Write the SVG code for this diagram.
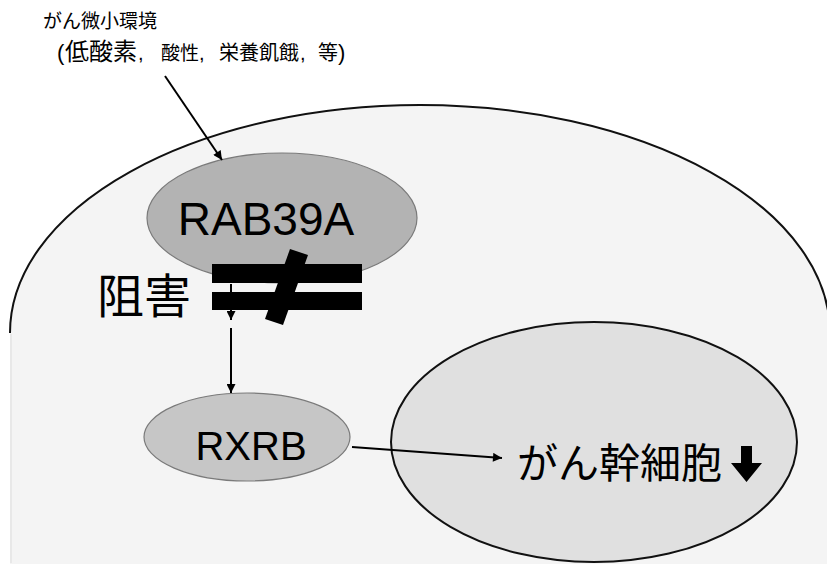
<svg xmlns="http://www.w3.org/2000/svg" width="827" height="564" viewBox="0 0 827 564">
<defs>
<style>
.t{font-family:"Liberation Sans","Noto Sans CJK JP",sans-serif;fill:#000}
.cjk{font-family:"Noto Sans CJK JP","Liberation Sans",sans-serif;fill:#000}
.conn{stroke:#000;stroke-width:2;fill:none}
</style>
<marker id="ah" viewBox="0 0 10 10" refX="10" refY="5" markerWidth="10" markerHeight="9" markerUnits="userSpaceOnUse" orient="auto">
<path d="M0,0 L10,5 L0,10 Z" fill="#000"/>
</marker>
</defs>
<rect width="827" height="564" fill="#ffffff"/>
<g id="cell">
<path d="M10,333 A410,228 0 0 1 830,333 L830,564 L10,564 Z" fill="#f4f4f4"/>
<path d="M10,333 A410,228 0 0 1 830,333" fill="none" stroke="#111" stroke-width="2"/>
<line x1="11" y1="334" x2="11" y2="563" stroke="#dcdcdc" stroke-width="1"/>
</g>
<g id="stemcell">
<ellipse cx="594" cy="442" rx="203" ry="120" fill="#e0e0e0" stroke="#111" stroke-width="2"/>
<text class="cjk" x="517" y="478" font-size="41">がん幹細胞</text>
<path d="M741,446 L752,446 L752,463 L762,463 L746.5,482 L731,463 L741,463 Z" fill="#000"/>
</g>
<g id="env">
<text class="cjk" x="43" y="28" font-size="19">がん微小環境</text>
<text class="t" y="60"><tspan x="57" font-size="22">(</tspan><tspan x="65" font-size="24">低酸素</tspan><tspan x="138" font-size="20">,</tspan><tspan x="161" font-size="19">酸性</tspan><tspan x="199" font-size="20">,</tspan><tspan x="219" font-size="20">栄養飢餓</tspan><tspan x="300" font-size="20">,</tspan><tspan x="318" font-size="20">等</tspan><tspan x="338" font-size="22">)</tspan></text>
</g>
<g id="RAB39A">
<ellipse cx="282" cy="218" rx="135" ry="65" fill="#b3b3b3" stroke="#7a7a7a" stroke-width="1.2"/>
<text class="t" x="266" y="235" font-size="46" text-anchor="middle">RAB39A</text>
</g>
<g id="RXRB">
<ellipse cx="247" cy="437" rx="103" ry="44" fill="#c6c6c6" stroke="#7a7a7a" stroke-width="1.2"/>
<text class="t" x="251" y="460" font-size="40" text-anchor="middle">RXRB</text>
</g>
<g id="connectors">
<line class="conn" x1="165" y1="76" x2="222" y2="160" marker-end="url(#ah)"/>
<line class="conn" x1="231" y1="284" x2="231" y2="320" stroke-width="1.5" marker-end="url(#ah)"/>
<line class="conn" x1="231" y1="328" x2="231" y2="393" marker-end="url(#ah)"/>
<line class="conn" x1="352" y1="447" x2="502" y2="458" marker-end="url(#ah)"/>
</g>
<g id="inhibit">
<text class="cjk" x="97" y="313" font-size="47">阻害</text>
<rect x="212" y="264" width="150" height="19" fill="#000"/>
<rect x="212" y="292" width="150" height="18" fill="#000"/>
<path d="M290,249 L308,255 L283,325 L265,319 Z" fill="#000"/>
</g>
</svg>
